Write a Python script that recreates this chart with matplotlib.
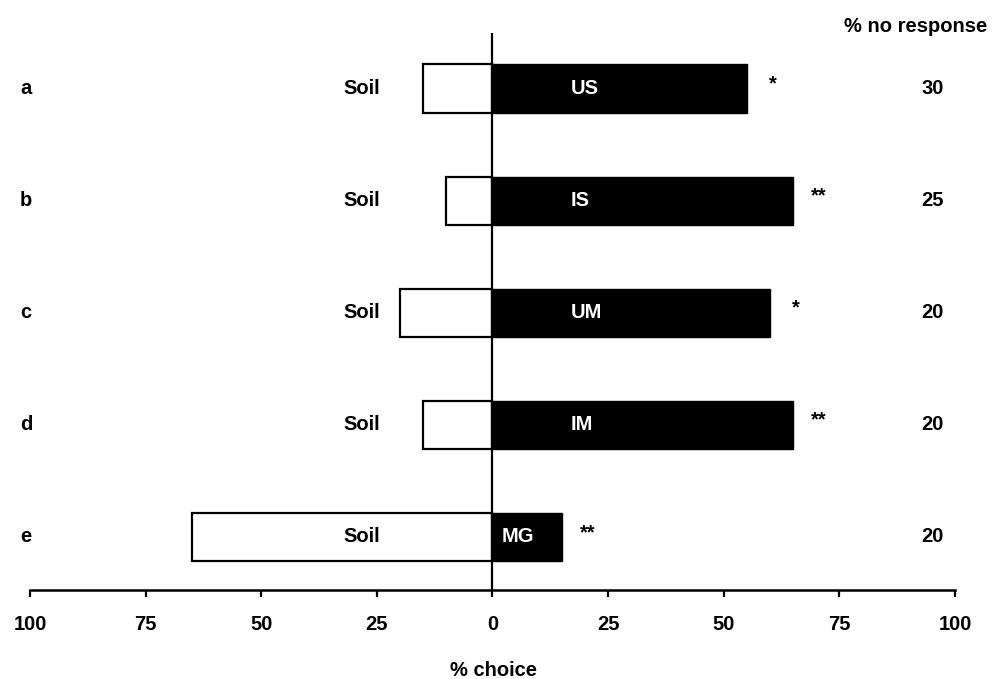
import matplotlib
matplotlib.use("Agg")
import matplotlib.pyplot as plt

plt.rcParams['font.family'] = ['Liberation Sans', 'DejaVu Sans']
plt.rcParams['font.weight'] = 'bold'

# choice experiments, top row first
rows = ['a', 'b', 'c', 'd', 'e']
soil_pct = [15, 10, 20, 15, 65]
test_pct = [55, 65, 60, 65, 15]
test_names = ['US', 'IS', 'UM', 'IM', 'MG']
signif = ['*', '**', '*', '**', '**']
no_response = [30, 25, 20, 20, 20]
xticks = [-100, -75, -50, -25, 0, 25, 50, 75, 100]

fs = 14.5
fig = plt.figure(figsize=(9.92, 6.79), dpi=100)
ax = fig.add_axes([0.0302, 0.1311, 0.9325, 0.8203])

n = len(rows)
ypos = [n - 1 - i for i in range(n)]
h = 0.43

ax.barh(ypos, [-s for s in soil_pct], height=h, color='white',
        edgecolor='black', linewidth=1.6, zorder=2)
ax.barh(ypos, test_pct, height=h, color='black', edgecolor='black',
        linewidth=1.0, zorder=2)
ax.axvline(0, color='black', linewidth=1.6, zorder=3)

for i, y in enumerate(ypos):
    ax.text(-100.8, y, rows[i], ha='center', va='center', fontsize=fs,
            fontweight='bold', clip_on=False)
    ax.text(-28.2, y, 'Soil', ha='center', va='center', fontsize=fs,
            fontweight='bold', zorder=4)
    lx = 17 if test_pct[i] > 30 else 2
    ax.text(lx, y, test_names[i], ha='left', va='center', fontsize=fs,
            fontweight='bold', color='white', zorder=4)
    # significance marks sit a little above the bar centre
    ax.text(test_pct[i] + 5.5, y + 0.04, signif[i], ha='center',
            va='center', fontsize=fs, fontweight='bold')
    ax.text(95.1, y, str(no_response[i]), ha='center', va='center',
            fontsize=fs, fontweight='bold', clip_on=False)

ax.text(91.5, n - 1 + 0.55, '% no response', ha='center', va='center',
        fontsize=fs, fontweight='bold', clip_on=False)

ax.set_xlim(-100, 100)
ax.set_ylim(-0.473, n - 1 + 0.495)
ax.set_xticks(xticks)
ax.set_xticklabels([str(abs(t)) for t in xticks], fontsize=fs,
                   fontweight='bold')
ax.tick_params(axis='x', direction='out', length=5, width=1.6, pad=13)
ax.set_yticks([])
for side in ['top', 'left', 'right']:
    ax.spines[side].set_visible(False)
ax.spines['bottom'].set_linewidth(1.8)

fig.text(493 / 992, 1 - 670 / 679, '% choice', ha='center', va='center',
         fontsize=fs, fontweight='bold')

fig.savefig('out.png', dpi=100)
